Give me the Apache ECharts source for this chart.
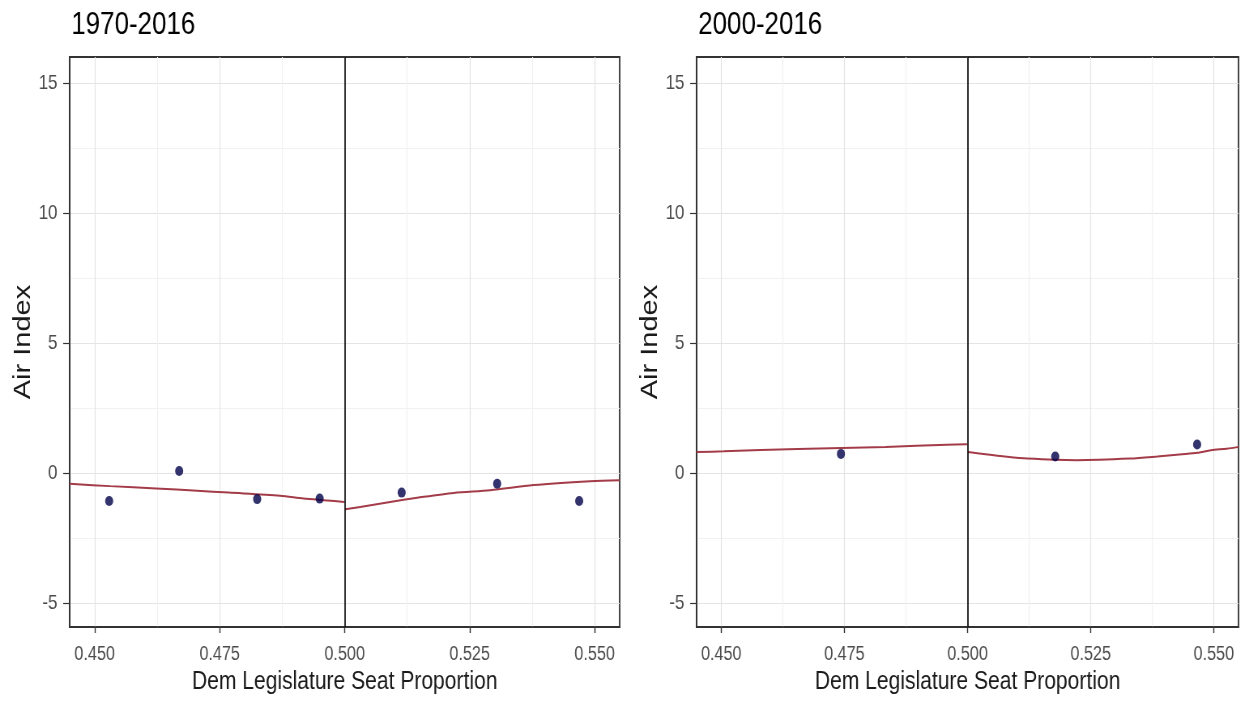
<!DOCTYPE html>
<html>
<head>
<meta charset="utf-8">
<script src="https://cdn.jsdelivr.net/npm/echarts@6/dist/echarts.min.js"></script>
<style>
  html, body { margin: 0; padding: 0; background: #fff; overflow: hidden; }
  /* The figure is laid out wide and compressed horizontally to 1244px */
  #chart { width: 1536px; height: 704px; transform: scaleX(0.81); transform-origin: 0 0; }
</style>
</head>
<body>
<div id="chart"></div>
<script>
// Panel titles
const panelTitles = ['1970-2016', '2000-2016'];

// Axis ticks
const xTicks = [0.45, 0.475, 0.5, 0.525, 0.55];
const xMinorTicks = [0.4625, 0.4875, 0.5125, 0.5375];
const yTicks = [-5, 0, 5, 10, 15];
const yMinorTicks = [-2.5, 2.5, 7.5, 12.5];

// 1970-2016: binned means
const binX1970 = [0.4529, 0.4669, 0.4825, 0.4950, 0.5114, 0.5305, 0.5469];
const binY1970 = [-1.08, 0.07, -1.01, -0.99, -0.76, -0.42, -1.08];
// 1970-2016: fitted curve below / above the cutoff
const fitBelowX1970 = [0.445, 0.4531, 0.4623, 0.4705, 0.4768, 0.4871, 0.4918, 0.4965, 0.4999];
const fitBelowY1970 = [-0.42, -0.51, -0.60, -0.69, -0.76, -0.88, -0.99, -1.06, -1.12];
const fitAboveX1970 = [0.5001, 0.5031, 0.5091, 0.5145, 0.5218, 0.5291, 0.5378, 0.5491, 0.555];
const fitAboveY1970 = [-1.40, -1.31, -1.12, -0.96, -0.77, -0.67, -0.47, -0.32, -0.28];

// 2000-2016: binned means
const binX2000 = [0.4743, 0.5178, 0.5466];
const binY2000 = [0.73, 0.63, 1.09];
// 2000-2016: fitted curve below / above the cutoff
const fitBelowX2000 = [0.445, 0.4505, 0.4655, 0.4834, 0.4958, 0.4999];
const fitBelowY2000 = [0.80, 0.83, 0.92, 1.00, 1.08, 1.10];
const fitAboveX2000 = [0.5001, 0.5041, 0.5075, 0.5121, 0.5221, 0.533, 0.5385, 0.543, 0.5467, 0.5494, 0.5526, 0.555];
const fitAboveY2000 = [0.80, 0.71, 0.63, 0.55, 0.49, 0.55, 0.63, 0.71, 0.77, 0.87, 0.93, 1.00];

const cutoff = 0.5;
const xRange = [0.445, 0.555];
const yRange = [-5.93, 16.0];

const font = "'Liberation Sans', Arial, Helvetica, sans-serif";
const pointColor = '#000048';
const fitColor = '#a33c48';
const frameColor = '#333333';

const zip = (xs, ys) => xs.map((x, i) => [x, ys[i]]);

const grids = [
  { left: 86, right: 771, top: 57, bottom: 77 },
  { left: 860, right: 7, top: 57, bottom: 77 }
];

function majorX(gridIndex) {
  return {
    type: 'value', gridIndex, min: xRange[0], max: xRange[1],
    name: 'Dem Legislature Seat Proportion', nameLocation: 'middle', nameGap: 38,
    nameTextStyle: { fontFamily: font, fontSize: 26, color: '#1a1a1a' },
    axisLine: { show: true, onZero: false, lineStyle: { color: frameColor, width: 1.5 } },
    axisTick: { show: true, length: 6, customValues: xTicks, lineStyle: { color: frameColor, width: 1.4 } },
    axisLabel: { customValues: xTicks, margin: 17, fontFamily: font, fontSize: 20, color: '#4d4d4d',
      formatter: v => v.toFixed(3) },
    splitLine: { show: true, lineStyle: { color: '#e4e4e4', width: 1.2 } }
  };
}
function minorX(gridIndex) {
  return {
    type: 'value', gridIndex, min: xRange[0], max: xRange[1],
    axisLine: { show: false, onZero: false }, axisLabel: { show: false },
    axisTick: { show: false, customValues: xMinorTicks },
    splitLine: { show: true, lineStyle: { color: '#f1f1f1', width: 1.2 } }
  };
}
function majorY(gridIndex) {
  return {
    type: 'value', gridIndex, min: yRange[0], max: yRange[1],
    name: 'Air Index', nameLocation: 'middle', nameGap: 35, nameRotate: 90,
    nameTextStyle: { fontFamily: font, fontSize: 29, color: '#1a1a1a' },
    axisLine: { show: true, onZero: false, lineStyle: { color: frameColor, width: 1.8 } },
    axisTick: { show: true, length: 8, customValues: yTicks, lineStyle: { color: frameColor, width: 1.2 } },
    axisLabel: { customValues: yTicks, margin: 15, fontFamily: font, fontSize: 21, color: '#4d4d4d',
      formatter: v => String(Math.round(v)) },
    splitLine: { show: true, lineStyle: { color: '#e4e4e4', width: 1 } }
  };
}
function minorY(gridIndex) {
  return {
    type: 'value', gridIndex, min: yRange[0], max: yRange[1],
    axisLine: { show: false, onZero: false }, axisLabel: { show: false },
    axisTick: { show: false, customValues: yMinorTicks },
    splitLine: { show: true, lineStyle: { color: '#f1f1f1', width: 1 } }
  };
}

function panelSeries(idx, binX, binY, belowX, belowY, aboveX, aboveY) {
  return [
    {
      type: 'line', xAxisIndex: idx, yAxisIndex: idx, data: zip(belowX, belowY),
      showSymbol: false, smooth: 0.3, lineStyle: { color: fitColor, width: 2 }, z: 3, silent: true
    },
    {
      type: 'line', xAxisIndex: idx, yAxisIndex: idx, data: zip(aboveX, aboveY),
      showSymbol: false, smooth: 0.3, lineStyle: { color: fitColor, width: 2 }, z: 3, silent: true
    },
    {
      type: 'scatter', xAxisIndex: idx, yAxisIndex: idx, data: zip(binX, binY),
      symbolSize: 10, itemStyle: { color: pointColor }, z: 4, silent: true,
      markLine: {
        silent: true, symbol: 'none', label: { show: false },
        lineStyle: { color: '#000', width: 1.6, type: 'solid' },
        data: [{ xAxis: cutoff }]
      }
    }
  ];
}

const chart = echarts.init(document.getElementById('chart'), null, { renderer: 'canvas' });
chart.setOption({
  animation: false,
  backgroundColor: '#ffffff',
  title: [
    { text: panelTitles[0], left: 83, top: 4, textStyle: { fontFamily: font, fontSize: 32, fontWeight: 'normal', color: '#000' } },
    { text: panelTitles[1], left: 857, top: 4, textStyle: { fontFamily: font, fontSize: 32, fontWeight: 'normal', color: '#000' } }
  ],
  grid: grids.map(g => Object.assign({ show: true, borderColor: frameColor, borderWidth: 1.8, backgroundColor: 'transparent' }, g)),
  xAxis: [majorX(0), majorX(1), minorX(0), minorX(1)],
  yAxis: [majorY(0), majorY(1), minorY(0), minorY(1)],
  series: [
    ...panelSeries(0, binX1970, binY1970, fitBelowX1970, fitBelowY1970, fitAboveX1970, fitAboveY1970),
    ...panelSeries(1, binX2000, binY2000, fitBelowX2000, fitBelowY2000, fitAboveX2000, fitAboveY2000)
  ]
});
</script>
</body>
</html>
